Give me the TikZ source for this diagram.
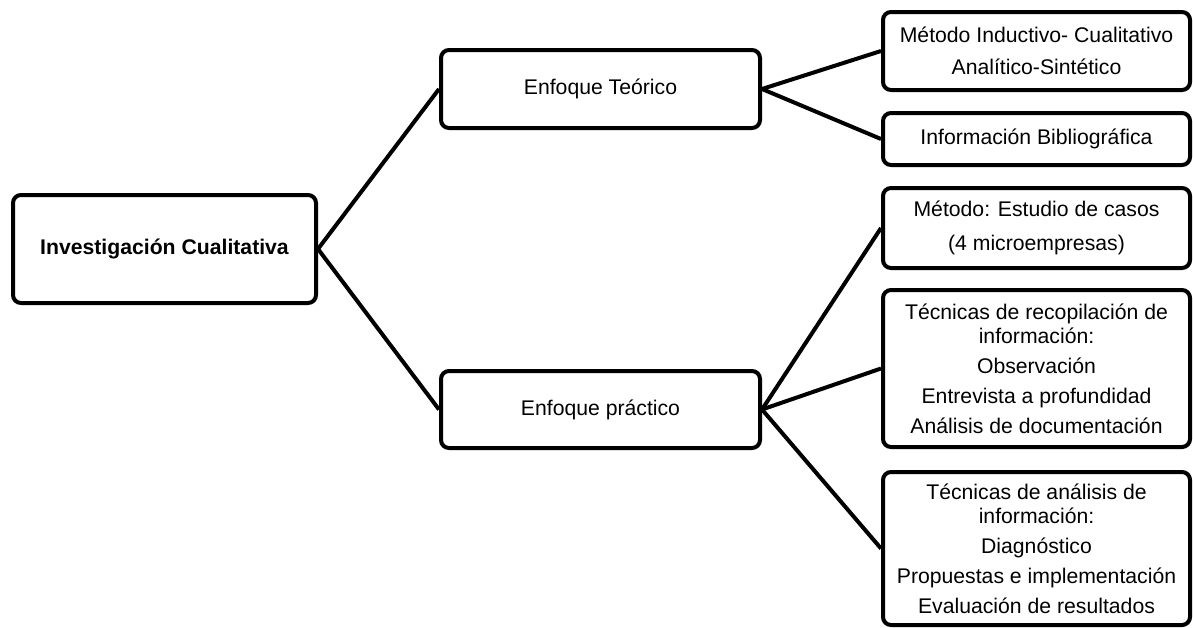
\documentclass[tikz,border=0pt]{standalone}
\usepackage{fontspec}
\setmainfont{Liberation Sans}
\usetikzlibrary{positioning}
\tikzset{
  caja/.style={draw, rounded corners=4pt, line width=2pt, align=center,
               inner sep=0pt, font=\fontsize{10.6}{12}\selectfont},
  hoja/.style={caja, minimum width=153.5pt},
  rama/.style={line width=2pt},
}

\begin{document}
\begin{tikzpicture}[x=0.5pt, y=-0.5pt]
  \useasboundingbox (0,0) rectangle (1193,627);

  %% raiz y enfoques
  \node[caja, minimum width=151.5pt, minimum height=54pt, font=\fontsize{10.6}{12}\selectfont\bfseries]
      (raiz) at (164.5,249) {Investigación Cualitativa};
  \node[caja, minimum width=159.5pt, minimum height=39pt] (teorico) at (600.5,89) {Enfoque Teórico};
  \node[caja, minimum width=159.5pt, minimum height=38.5pt] (practico) at (600.5,409.5) {Enfoque práctico};

  %% hojas del enfoque teorico
  \node[hoja, minimum height=39pt] (metodo) at (1036.5,51) {%
    Método Inductivo- Cualitativo\\[4pt] Analítico-Sintético};
  \node[hoja, minimum height=26pt] (biblio) at (1036.5,139) {Información Bibliográfica};

  %% hojas del enfoque practico
  \node[hoja, minimum height=40pt] (casos) at (1036.5,228) {%
    Método: Estudio de casos\\[5pt] (4 microempresas)};
  \node[hoja, minimum height=78.5pt] (recop) at (1036.5,368.5) {%
    Técnicas de recopilación de\\ información:\\[3pt] Observación\\[3pt]
    Entrevista a profundidad\\[3pt] Análisis de documentación};
  \node[hoja, minimum height=76.5pt] (anal) at (1036.5,548.5) {%
    Técnicas de análisis de\\ información:\\[3pt] Diagnóstico\\[3pt]
    Propuestas e implementación\\[3pt] Evaluación de resultados};

  \draw[rama] (raiz.east) -- (teorico.west);
  \draw[rama] (raiz.east) -- (practico.west);
  \draw[rama] (teorico.east) -- (metodo.west);
  \draw[rama] (teorico.east) -- (biblio.west);
  \draw[rama] (practico.east) -- (casos.west);
  \draw[rama] (practico.east) -- (recop.west);
  \draw[rama] (practico.east) -- (anal.west);
\end{tikzpicture}
\end{document}
